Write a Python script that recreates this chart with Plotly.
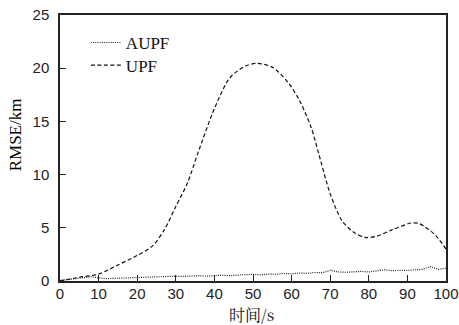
import plotly.graph_objects as go

# AUPF series (time in s, RMSE in km)
aupf_t = list(range(0, 101, 2))
aupf_v = [0.05, 0.15, 0.25, 0.35, 0.4, 0.3, 0.22, 0.25, 0.28, 0.3,
          0.32, 0.35, 0.33, 0.38, 0.42, 0.45, 0.43, 0.47, 0.5, 0.45,
          0.52, 0.55, 0.5, 0.58, 0.6, 0.62, 0.58, 0.65, 0.63, 0.7,
          0.68, 0.75, 0.72, 0.8, 0.78, 1.0, 0.85, 0.82, 0.88, 0.9,
          0.85, 0.95, 1.05, 0.98, 0.97, 1.0, 1.05, 1.1, 1.35, 1.1, 1.2]

# UPF series
upf_t = [0, 5, 10, 15, 20, 24, 27, 30, 33, 36, 40, 44, 48, 51, 55, 59, 62, 65,
         67, 70, 73, 76, 79, 82, 86, 91, 93, 97, 100]
upf_v = [0, 0.35, 0.65, 1.5, 2.4, 3.3, 4.8, 7.0, 9.2, 12.3, 16.2, 19.1, 20.2,
         20.45, 20.1, 18.7, 17.0, 14.5, 12.0, 8.2, 5.7, 4.6, 4.1, 4.2, 4.8,
         5.45, 5.4, 4.4, 3.0]

x_ticks = [0, 10, 20, 30, 40, 50, 60, 70, 80, 90, 100]
y_ticks = [0, 5, 10, 15, 20, 25]

fig = go.Figure()
fig.add_trace(go.Scatter(x=aupf_t, y=aupf_v, mode="lines", name="AUPF", legend="legend",
                         line=dict(color="#222", width=1.2, dash="1px,1.2px")))
fig.add_trace(go.Scatter(x=upf_t, y=upf_v, mode="lines", name="UPF", legend="legend2",
                         line=dict(color="#111", width=1.2, dash="4px,2.5px",
                                   shape="spline", smoothing=0.8)))

axis_common = dict(showline=True, linecolor="#222", linewidth=1.5, mirror=True,
                   ticks="inside", ticklen=6, tickwidth=1, tickcolor="#222",
                   showgrid=False, zeroline=False, automargin=False,
                   ticklabeloverflow="allow",
                   tickfont=dict(family="Liberation Sans, Arial", size=15, color="#222"))

legend_font = dict(family="Liberation Serif, Times New Roman", size=17, color="#111")

fig.update_layout(
    width=459, height=325,
    margin=dict(l=60, r=13, t=15, b=44),
    paper_bgcolor="white", plot_bgcolor="white",
    xaxis=dict(range=[0, 100], tickvals=x_ticks, ticklabelstandoff=-2, **axis_common),
    yaxis=dict(range=[0, 25], tickvals=y_ticks, ticklabelstandoff=6, **axis_common),
    legend=dict(x=0.067, y=0.895, xanchor="left", yanchor="middle",
                bgcolor="rgba(0,0,0,0)", font=legend_font),
    legend2=dict(x=0.067, y=0.81, xanchor="left", yanchor="middle",
                 bgcolor="rgba(0,0,0,0)", font=legend_font),
    showlegend=True,
    annotations=[
        dict(text="时间/s", xref="paper", yref="paper", x=0.497, y=-0.126,
             xanchor="center", yanchor="middle", showarrow=False,
             font=dict(family="Noto Serif CJK SC, Noto Sans CJK SC", size=16, color="#111")),
        dict(text="RMSE/km", xref="paper", yref="paper", x=-0.115, y=0.55,
             xanchor="center", yanchor="middle", showarrow=False, textangle=-90,
             font=dict(family="Liberation Serif, Times New Roman", size=17, color="#000")),
    ],
)

fig.write_html("out.html", config={"displayModeBar": False},
               post_script="document.body.style.margin='0';")
